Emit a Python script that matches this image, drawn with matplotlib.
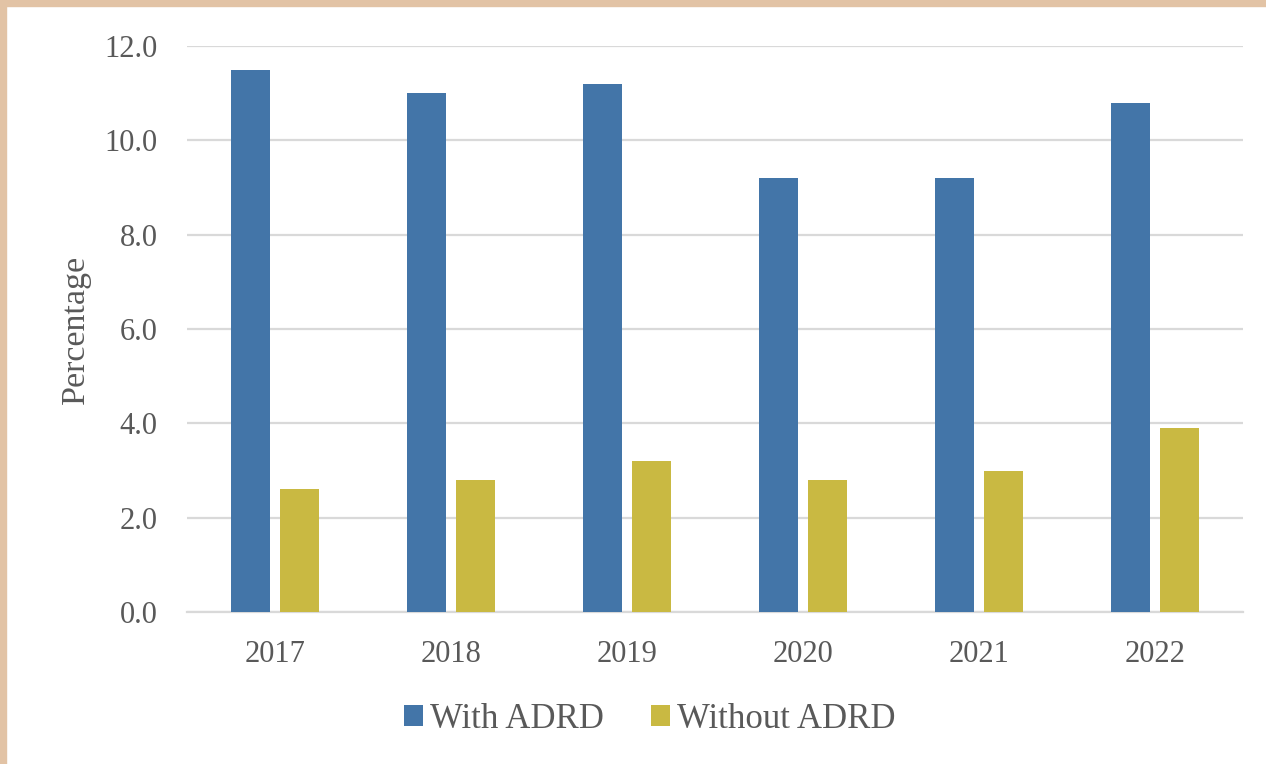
import matplotlib
matplotlib.use("Agg")
import matplotlib.pyplot as plt
import matplotlib.patches as mpatches
import numpy as np

# data
years = ["2017", "2018", "2019", "2020", "2021", "2022"]
with_adrd = [11.5, 11.0, 11.2, 9.2, 9.2, 10.8]
without_adrd = [2.6, 2.8, 3.2, 2.8, 3.0, 3.9]
y_ticks = [0.0, 2.0, 4.0, 6.0, 8.0, 10.0, 12.0]

BLUE = "#4375A8"
GOLD = "#C9B942"
TEXT = "#595959"
GRID = "#D9D9D9"

plt.rcParams["font.family"] = ["Liberation Serif", "DejaVu Serif"]

fig = plt.figure(figsize=(12.66, 7.64), dpi=100)
ax = fig.add_axes([187 / 1266, 1 - 612 / 764, 1056 / 1266, 566 / 764])

x = np.arange(len(years))
w = 0.225
ax.bar(x - 0.139, with_adrd, w, color=BLUE, label="With ADRD", zorder=3)
ax.bar(x + 0.139, without_adrd, w, color=GOLD, label="Without ADRD", zorder=3)

ax.set_xlim(-0.5, len(years) - 0.5)
ax.set_ylim(0, 12)
ax.set_yticks(y_ticks)
ax.set_yticklabels(["%.1f" % v for v in y_ticks])
ax.set_xticks(x)
ax.set_xticklabels(years)
ax.tick_params(axis="both", length=0, labelsize=22, labelcolor=TEXT)
ax.tick_params(axis="y", pad=21)
ax.tick_params(axis="x", pad=20)

ax.grid(axis="y", color=GRID, linewidth=1.6, zorder=0)
for side in ["top", "right", "left"]:
    ax.spines[side].set_visible(False)
ax.spines["bottom"].set_color(GRID)
ax.spines["bottom"].set_linewidth(1.6)

ax.set_ylabel("Percentage", fontsize=24.5, color=TEXT, labelpad=10)

leg = fig.legend(loc="center", bbox_to_anchor=(650 / 1266, 1 - 719 / 764),
                 ncol=2, frameon=False, fontsize=25, handlelength=0.55,
                 handleheight=0.55, handletextpad=0.2, columnspacing=1.35)
for t in leg.get_texts():
    t.set_color(TEXT)

# tan frame on the top and left edge of the picture
fig.patches.append(mpatches.Rectangle((0, 1 - 6 / 764), 1, 6 / 764,
                                      transform=fig.transFigure, color="#E2C3A5", zorder=10))
fig.patches.append(mpatches.Rectangle((0, 0), 6 / 1266, 1,
                                      transform=fig.transFigure, color="#E2C3A5", zorder=10))

fig.savefig("out.png", dpi=100)
